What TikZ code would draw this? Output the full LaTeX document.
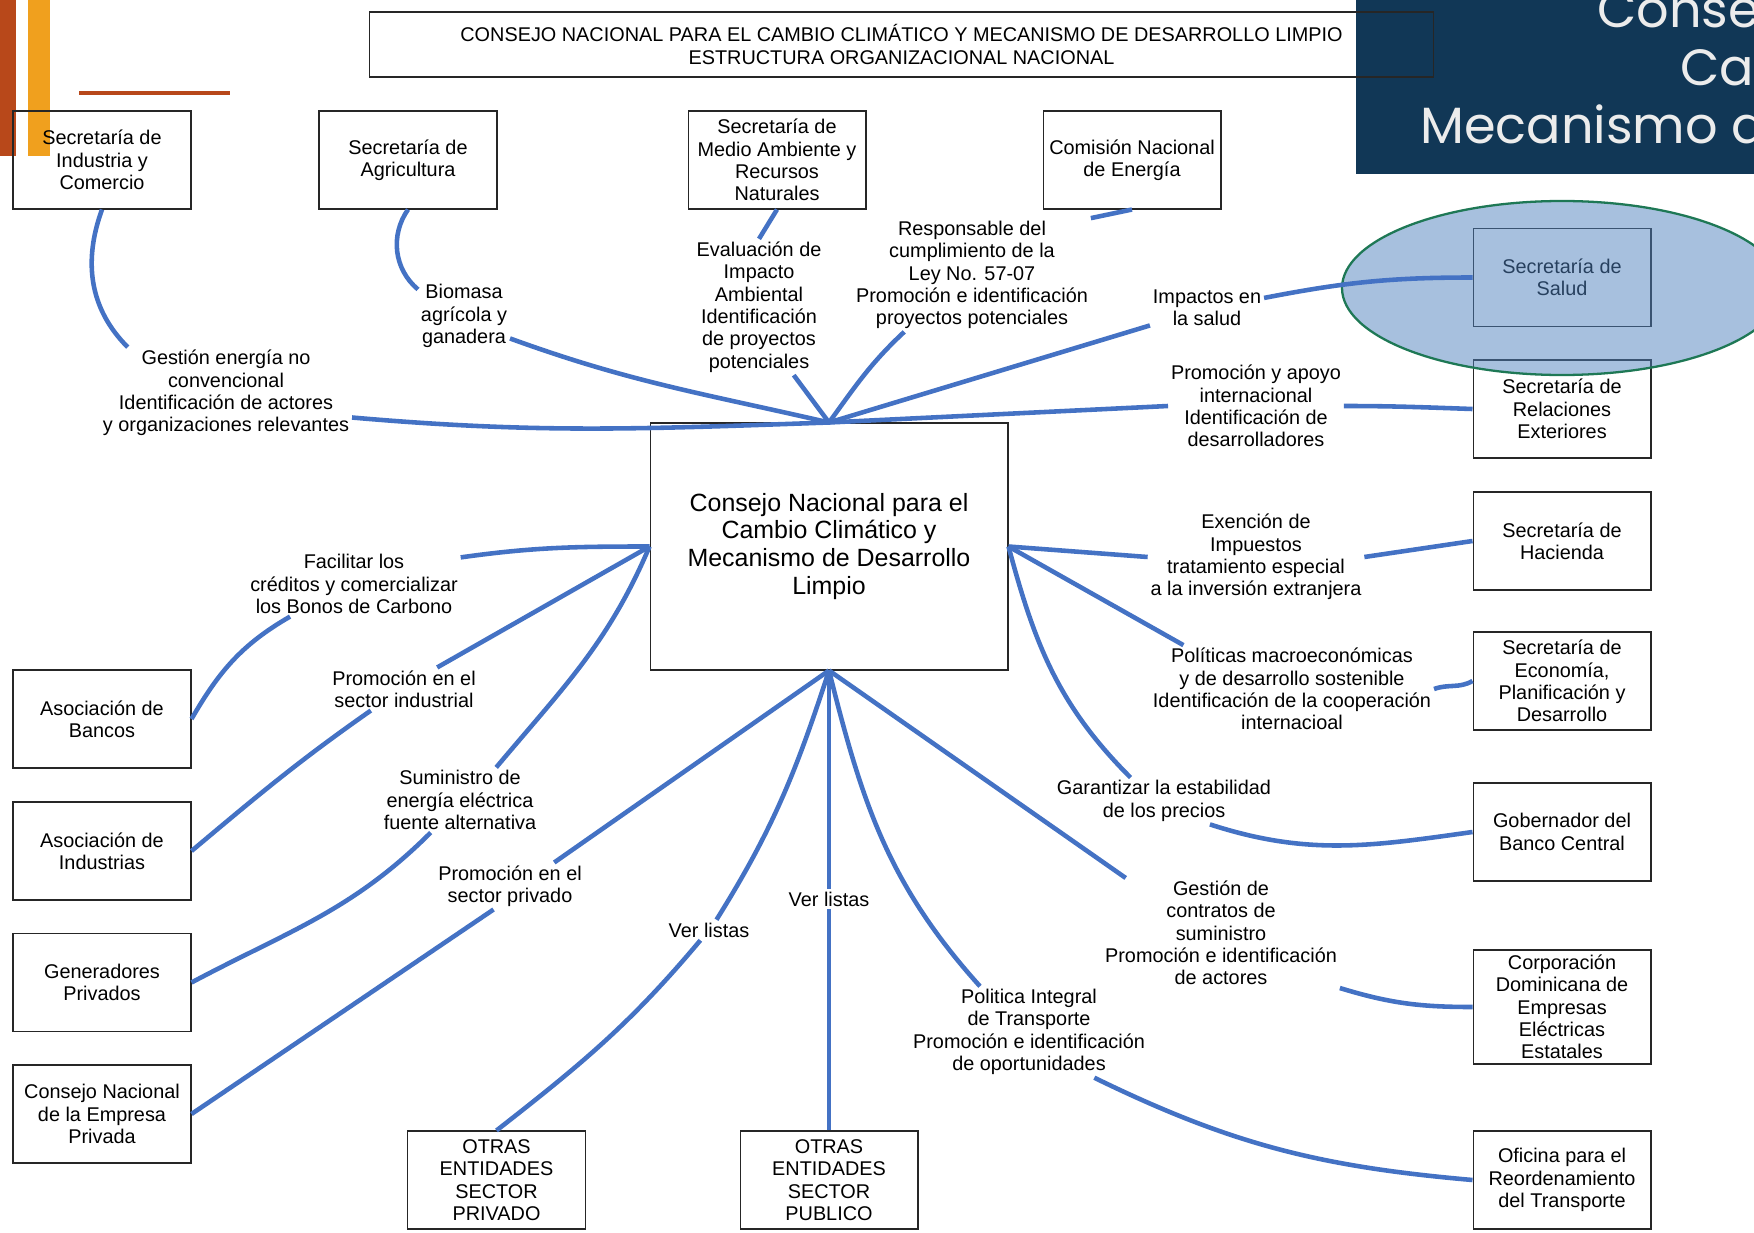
\documentclass[tikz,border=0pt]{standalone}
\usepackage{fontspec}
\setmainfont{Liberation Sans}
\newfontfamily\panelfont{Poppins}
\definecolor{linkblue}{RGB}{68,114,196}
\definecolor{rust}{RGB}{184,72,26}
\definecolor{amber}{RGB}{240,160,30}
\definecolor{panelnavy}{RGB}{17,55,86}
\definecolor{ellgreen}{RGB}{30,120,85}
\definecolor{ellfill}{RGB}{79,129,189}
\definecolor{paneltext}{RGB}{236,236,236}
\newcommand\labfont{\fontsize{11.3pt}{12.7pt}\selectfont}
\newcommand\hubfont{\fontsize{14.2pt}{15.9pt}\selectfont}
\tikzset{orgbox/.style={draw=black!85, line width=0.6pt, align=center, minimum width=3.56cm, minimum height=1.96cm, inner sep=1pt, font=\labfont}}
\tikzset{lab/.style={align=center, inner sep=1.5pt, font=\labfont}}
\tikzset{link/.style={draw=linkblue, line width=2.6pt}}
\tikzset{panel/.style={text=paneltext, inner sep=0pt, anchor=base west, font=\panelfont\fontsize{29pt}{33pt}\selectfont}}

\begin{document}
\begin{tikzpicture}[x=0.02cm, y=0.02cm]
    \useasboundingbox (0,0) rectangle (1754,-1233);
    \fill [rust] (0,0) rectangle (16,-156);
    \fill [amber] (28,0) rectangle (50,-156);
    \fill [rust] (79,-91) rectangle (230,-95);
    \fill [panelnavy] (1356,0) rectangle (1754,-174);
    \begin{scope}
      \clip (1356,0) rectangle (1754,-174);
      \node [panel] (pa) at (1597,-28) {Conse};
      \node [panel] (pb) at (1680,-86) {Ca};
      \node [panel] (pc) at (1420,-144) {Mecanismo d};
    \end{scope}
    \node [draw=black!85, line width=0.6pt, minimum width=21.3cm, minimum height=1.3cm, align=center, font=\labfont] (title) at (901.5,-44.5) {CONSEJO NACIONAL PARA EL CAMBIO CLIMÁTICO Y MECANISMO DE DESARROLLO LIMPIO\\ESTRUCTURA ORGANIZACIONAL NACIONAL};
    \node [orgbox, minimum width=7.16cm, minimum height=4.94cm, font=\hubfont] (cn) at (829,-546.5) {Consejo Nacional para el\\Cambio Climático y\\Mecanismo de Desarrollo\\Limpio};
    \node [orgbox] (ind) at (102,-160) {Secretaría de\\Industria y\\Comercio};
    \node [orgbox] (agr) at (408,-160) {Secretaría de\\Agricultura};
    \node [orgbox] (med) at (777,-160) {Secretaría de\\Medio Ambiente y\\Recursos\\Naturales};
    \node [orgbox] (ene) at (1132,-160) {Comisión Nacional\\de Energía};
    \node [orgbox] (sal) at (1562,-277.5) {Secretaría de\\Salud};
    \node [orgbox] (rel) at (1562,-409) {Secretaría de\\Relaciones\\Exteriores};
    \node [orgbox] (hac) at (1562,-541) {Secretaría de\\Hacienda};
    \node [orgbox] (eco) at (1562,-681) {Secretaría de\\Economía,\\Planificación y\\Desarrollo};
    \node [orgbox] (ban) at (1562,-832) {Gobernador del\\Banco Central};
    \node [orgbox, minimum height=2.28cm] (cde) at (1562,-1007) {Corporación\\Dominicana de\\Empresas\\Eléctricas\\Estatales};
    \node [orgbox] (tra) at (1562,-1180) {Oficina para el\\Reordenamiento\\del Transporte};
    \node [orgbox] (bco) at (102,-719) {Asociación de\\Bancos};
    \node [orgbox] (ids) at (102,-851) {Asociación de\\Industrias};
    \node [orgbox] (gen) at (102,-982.5) {Generadores\\Privados};
    \node [orgbox] (cnp) at (102,-1114) {Consejo Nacional\\de la Empresa\\Privada};
    \node [orgbox] (opr) at (496.5,-1180) {OTRAS\\ENTIDADES\\SECTOR\\PRIVADO};
    \node [orgbox] (opu) at (829,-1180) {OTRAS\\ENTIDADES\\SECTOR\\PUBLICO};
    \node [lab] (gest) at (226,-393) {Gestión energía no\\convencional\\Identificación de actores\\y organizaciones relevantes};
    \node [lab] (bio) at (464,-316) {Biomasa\\agrícola y\\ganadera};
    \node [lab] (eva) at (759,-307) {Evaluación de\\Impacto\\Ambiental\\Identificación\\de proyectos\\potenciales};
    \node [lab] (resp) at (972,-275) {Responsable del\\cumplimiento de la\\Ley No. 57-07\\Promoción e identificación\\proyectos potenciales};
    \node [lab] (imp) at (1207,-308) {Impactos en\\la salud};
    \node [lab] (prom) at (1256,-406) {Promoción y apoyo\\internacional\\Identificación de\\desarrolladores};
    \node [lab] (exe) at (1256,-557) {Exención de\\Impuestos\\tratamiento especial\\a la inversión extranjera};
    \node [lab] (pol) at (1292,-689) {Políticas macroeconómicas\\y de desarrollo sostenible\\Identificación de la cooperación\\internacioal};
    \node [lab] (gar) at (1164,-801) {Garantizar la estabilidad\\de los precios};
    \node [lab] (gco) at (1221,-933) {Gestión de\\contratos de\\suministro\\Promoción e identificación\\de actores};
    \node [lab] (pit) at (1029,-1032) {Politica Integral\\de Transporte\\Promoción e identificación\\de oportunidades};
    \node [lab] (verpu) at (829,-899) {Ver listas};
    \node [lab] (verpr) at (709,-930) {Ver listas};
    \node [lab] (psp) at (510,-886) {Promoción en el\\sector privado};
    \node [lab] (sum) at (460,-800) {Suministro de\\energía eléctrica\\fuente alternativa};
    \node [lab] (psi) at (404,-689) {Promoción en el\\sector industrial};
    \node [lab] (fac) at (354,-584) {Facilitar los\\créditos y comercializar\\los Bonos de Carbono};
    \draw [ellgreen, line width=1.3pt, fill=ellfill, fill opacity=0.5] (1562,-288) ellipse [x radius=220, y radius=87];
    \draw [link] (ind.south) to[out=-110, in=135] (gest.155);
    \draw [link] (gest.-11) to[out=-5, in=182] (cn.north);
    \draw [link] (agr.south) to[out=-125, in=140] (bio.150);
    \draw [link] (bio.-26) to[out=-20, in=167] (cn.north);
    \draw [link] (med.south) -- (eva.north);
    \draw [link] (eva.-63) -- (cn.north);
    \draw [link] (ene.south) -- (resp.north east);
    \draw [link] (resp.-140) to[out=-137, in=54] (cn.north);
    \draw [link] (sal.west) to[out=180, in=11] (imp.10);
    \draw [link] (imp.-163) -- (cn.north);
    \draw [link] (rel.west) to[out=178, in=0] (prom.east);
    \draw [link] (prom.west) -- (cn.north);
    \draw [link] (hac.west) -- (exe.east);
    \draw [link] (exe.west) -- (cn.east);
    \draw [link] (eco.west) to[out=-150, in=20] (pol.east);
    \draw [link] (pol.158) -- (cn.east);
    \draw [link] (ban.west) to[out=188, in=-18] (gar.-27);
    \draw [link] (cn.east) to[out=-75, in=135] (gar.145);
    \draw [link] (cde.west) to[out=180, in=-17] (gco.south east);
    \draw [link] (gco.150) -- (cn.south);
    \draw [link] (tra.west) to[out=175, in=-26] (pit.-35);
    \draw [link] (pit.137) to[out=132, in=-76] (cn.south);
    \draw [link] (opu.north) -- (verpu.south);
    \draw [link] (verpu.north) -- (cn.south);
    \draw [link] (opr.north) to[out=38, in=-130] (verpr.-130);
    \draw [link] (verpr.54) to[out=58, in=-108] (cn.south);
    \draw [link] (cnp.east) -- (psp.-125);
    \draw [link] (psp.28) -- (cn.south);
    \draw [link] (gen.east) to[out=28, in=-135] (sum.-132);
    \draw [link] (sum.42) to[out=50, in=-113] (cn.west);
    \draw [link] (ids.east) to[out=40, in=-145] (psi.-147);
    \draw [link] (psi.33) -- (cn.west);
    \draw [link] (bco.east) to[out=60, in=-150] (fac.-153);
    \draw [link] (fac.14) to[out=8, in=180] (cn.west);
  \end{tikzpicture}
\end{document}
